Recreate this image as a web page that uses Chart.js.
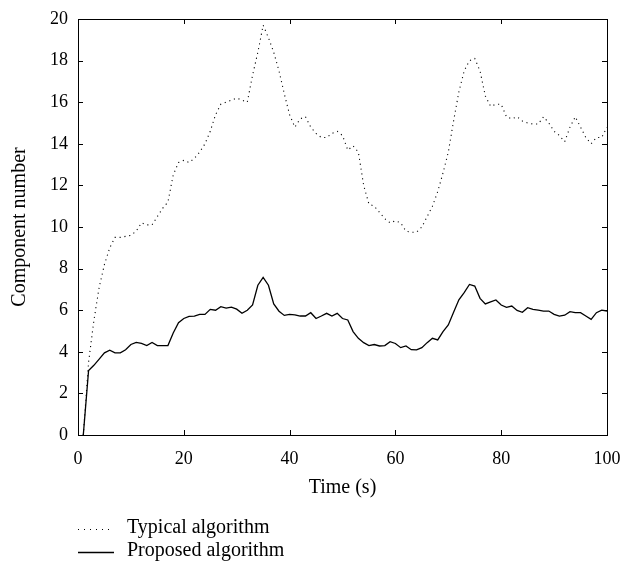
<!DOCTYPE html>
<html>
<head>
<meta charset="utf-8">
<script src="https://cdn.jsdelivr.net/npm/chart.js@4"></script>
<style>
  html, body { margin: 0; padding: 0; background: #fff; }
  #wrap { width: 623px; height: 571px; }
</style>
</head>
<body>
<div id="wrap"><canvas id="compChart" width="623" height="571"></canvas></div>
<script>
var timeSec = [];
for (var i = 1; i <= 100; i++) timeSec.push(i);

var typicalVals = [
    0, 3.5, 5.5, 7.1, 8.2, 9.0, 9.5, 9.5, 9.55, 9.6,
    9.8, 10.2, 10.1, 10.1, 10.5, 10.9, 11.2, 12.5, 13.1, 13.2,
    13.1, 13.3, 13.6, 14.0, 14.6, 15.4, 15.9, 16.0, 16.1, 16.2,
    16.1, 16.0, 17.3, 18.4, 19.7, 19.1, 18.4, 17.5, 16.4, 15.4,
    14.8, 15.2, 15.3, 14.8, 14.5, 14.3, 14.3, 14.5, 14.6, 14.4,
    13.7, 13.9, 13.6, 12.0, 11.1, 11.0, 10.7, 10.4, 10.2, 10.3,
    10.2, 9.8, 9.75, 9.75, 10.0, 10.5, 11.0, 11.7, 12.6, 13.6,
    15.1, 16.5, 17.5, 18.0, 18.1, 17.5, 16.3, 15.8, 15.9, 15.9,
    15.3, 15.2, 15.3, 15.1, 15.0, 14.95, 14.95, 15.3, 15.0, 14.6,
    14.4, 14.1, 14.8, 15.3, 14.8, 14.3, 14.0, 14.3, 14.3, 14.8
];

var proposedVals = [
    0, 3.1, 3.35, 3.65, 3.95, 4.08, 3.95, 3.95, 4.1, 4.35,
    4.45, 4.4, 4.3, 4.45, 4.3, 4.3, 4.3, 4.9, 5.4, 5.6,
    5.7, 5.72, 5.8, 5.8, 6.04, 6.0, 6.17, 6.1, 6.15, 6.05,
    5.85, 6.0, 6.25, 7.2, 7.58, 7.2, 6.3, 5.95, 5.75, 5.8,
    5.78, 5.72, 5.72, 5.88, 5.6, 5.72, 5.85, 5.72, 5.85, 5.6,
    5.53, 4.97, 4.65, 4.44, 4.3, 4.35, 4.28, 4.3, 4.49, 4.4,
    4.2, 4.28, 4.1, 4.09, 4.2, 4.44, 4.65, 4.57, 4.97, 5.29,
    5.9, 6.5, 6.85, 7.24, 7.16, 6.57, 6.3, 6.4, 6.49, 6.25,
    6.14, 6.2, 5.99, 5.9, 6.12, 6.04, 6.0, 5.96, 5.96, 5.8,
    5.72, 5.76, 5.93, 5.88, 5.88, 5.72, 5.56, 5.88, 6.0, 5.96
];

var seriesNames = ['Typical algorithm', 'Proposed algorithm'];
var xTitle = 'Time (s)';
var yTitle = 'Component number';

var serif = '"Liberation Serif", "DejaVu Serif", serif';

function toPoints(vals) {
    return vals.map(function(v, idx) { return { x: timeSec[idx], y: v }; });
}

// box around the plot, inward tick marks, x title and the legend underneath
var boxPlugin = {
    id: 'boxPlugin',
    afterDraw: function(chart) {
        var ctx = chart.ctx;
        var a = chart.chartArea;
        var xs = chart.scales.x, ys = chart.scales.y;
        ctx.save();
        ctx.strokeStyle = '#000';
        ctx.lineWidth = 1;
        ctx.setLineDash([]);
        ctx.strokeRect(Math.round(a.left) + 0.5, Math.round(a.top) + 0.5,
            Math.round(a.right - a.left), Math.round(a.bottom - a.top));
        var len = 5;
        ctx.beginPath();
        xs.ticks.forEach(function(t) {
            var px = Math.round(xs.getPixelForValue(t.value)) + 0.5;
            ctx.moveTo(px, a.bottom); ctx.lineTo(px, a.bottom - len);
            ctx.moveTo(px, a.top); ctx.lineTo(px, a.top + len);
        });
        ys.ticks.forEach(function(t) {
            var py = Math.round(ys.getPixelForValue(t.value)) + 0.5;
            ctx.moveTo(a.left, py); ctx.lineTo(a.left + len, py);
            ctx.moveTo(a.right, py); ctx.lineTo(a.right - len, py);
        });
        ctx.stroke();

        ctx.fillStyle = '#000';
        ctx.font = '20px ' + serif;
        ctx.textAlign = 'center';
        ctx.textBaseline = 'middle';
        ctx.fillText(xTitle, (a.left + a.right) / 2, 488);

        // legend
        var ly = [529, 552];
        var dashes = [[1, 5], []];
        ctx.textAlign = 'left';
        chart.data.datasets.forEach(function(ds, k) {
            ctx.beginPath();
            ctx.lineWidth = ds.borderWidth;
            ctx.setLineDash(dashes[k]);
            ctx.moveTo(78, ly[k] + 0.5);
            ctx.lineTo(114, ly[k] + 0.5);
            ctx.stroke();
            ctx.setLineDash([]);
            ctx.fillText(ds.label, 127, ly[k] - 1);
        });
        ctx.restore();
    }
};

var ctx = document.getElementById('compChart').getContext('2d');
var myChart = new Chart(ctx, {
    type: 'line',
    data: {
        datasets: [{
            label: seriesNames[0],
            data: toPoints(typicalVals),
            borderColor: '#000',
            borderWidth: 1.1,
            borderDash: [1.1, 3.8],
            pointRadius: 0,
            tension: 0,
            fill: false
        }, {
            label: seriesNames[1],
            data: toPoints(proposedVals),
            borderColor: '#000',
            borderWidth: 1.3,
            pointRadius: 0,
            tension: 0,
            fill: false
        }]
    },
    plugins: [boxPlugin],
    options: {
        responsive: false,
        animation: false,
        devicePixelRatio: 1,
        layout: { padding: { top: 19, right: 16, left: 0, bottom: 0 } },
        plugins: {
            legend: { display: false },
            tooltip: { enabled: false }
        },
        scales: {
            x: {
                type: 'linear',
                min: 0,
                max: 100,
                ticks: {
                    stepSize: 20,
                    color: '#000',
                    padding: 13,
                    maxRotation: 0,
                    font: { family: serif, size: 18 }
                },
                grid: { display: false, drawTicks: false },
                border: { display: false },
                afterFit: function(scale) {
                    scale.height = 136;
                    scale.paddingLeft = 0;
                    scale.paddingRight = 0;
                }
            },
            y: {
                type: 'linear',
                min: 0,
                max: 20,
                ticks: {
                    stepSize: 2,
                    color: '#000',
                    padding: 10,
                    font: { family: serif, size: 18 }
                },
                grid: { display: false, drawTicks: false },
                border: { display: false },
                title: {
                    display: true,
                    text: yTitle,
                    color: '#000',
                    padding: { top: 8, bottom: 0 },
                    font: { family: serif, size: 20 }
                },
                afterFit: function(scale) {
                    scale.width = 78;
                    scale.paddingTop = 0;
                    scale.paddingBottom = 0;
                }
            }
        }
    }
});
</script>
</body>
</html>
